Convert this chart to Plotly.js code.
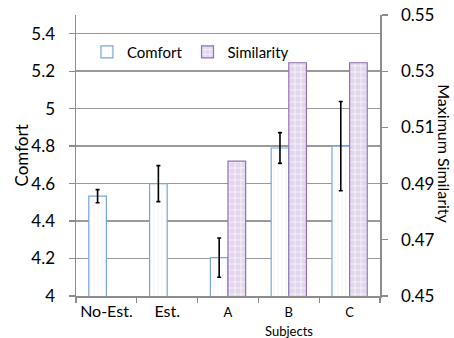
<!DOCTYPE html>
<html>
<head>
<meta charset="utf-8">
<script src="https://cdn.plot.ly/plotly-3.0.1.min.js"></script>
<style>html,body{margin:0;padding:0;background:#fff;}#chart{width:454px;height:338px;}</style>
</head>
<body>
<div id="chart"></div>
<script>
var categories = ["No-Est.", "Est.", "A", "B", "C"];
var comfort = [4.533, 4.600, 4.205, 4.790, 4.800];
var comfortErr = [0.035, 0.096, 0.105, 0.082, 0.238];
var similarity = [null, null, 0.498, 0.533, 0.533];
var comfortTicks = [4, 4.2, 4.4, 4.6, 4.8, 5, 5.2, 5.4];
var comfortTickText = ["4", "4.2", "4.4", "4.6", "4.8", "5", "5.2", "5.4"];
var simTicks = [0.45, 0.47, 0.49, 0.51, 0.53, 0.55];
var simTickText = ["0.45", "0.47", "0.49", "0.51", "0.53", "0.55"];
var subjectCats = ["A", "B", "C"];

var xTickText = categories.map(function (c) {
  return subjectCats.indexOf(c) >= 0 ? '<span style="font-size:13px">' + c + '</span>' : c;
});

var font = "Lato, 'Open Sans', sans-serif";

var traces = [
  {
    type: "bar", name: "Comfort", x: categories, y: comfort,
    width: 0.29, offset: -0.29,
    marker: {
      color: "#ffffff",
      line: {color: "#7aa5da", width: 1.2},
      pattern: {shape: "|", fgcolor: "#eceef4", bgcolor: "#ffffff", size: 4, solidity: 0.15}
    },
    error_y: {type: "data", array: comfortErr, visible: true, color: "#000000", thickness: 1.6, width: 2},
    xaxis: "x", yaxis: "y"
  },
  {
    type: "bar", name: "Similarity", x: categories, y: similarity,
    width: 0.29, offset: 0,
    marker: {
      color: "#e2d6ec",
      line: {color: "#8f70b6", width: 1.2},
      pattern: {shape: "+", fgcolor: "#ffffff", bgcolor: "#e2d6ec", size: 6, solidity: 0.2}
    },
    xaxis: "x", yaxis: "y2"
  }
];

var layout = {
  width: 454, height: 338,
  margin: {l: 76, r: 74, t: 15, b: 42},
  paper_bgcolor: "#ffffff", plot_bgcolor: "#ffffff",
  font: {family: font, size: 17, color: "#000000"},
  showlegend: true,
  legend: {
    orientation: "h", x: 0.036, y: 0.868, xanchor: "left", yanchor: "middle",
    font: {family: font, size: 15, color: "#000000"},
    bgcolor: "rgba(0,0,0,0)", itemwidth: 30, traceorder: "normal"
  },
  xaxis: {
    type: "category", range: [-0.5, 4.5],
    tickvals: categories, ticktext: xTickText, tickangle: 0,
    tickson: "boundaries", ticks: "outside", ticklen: 5, tickcolor: "#8c8c8c", tickwidth: 1.3,
    showline: true, linecolor: "#8c8c8c", linewidth: 1.5,
    showgrid: false, zeroline: false,
    tickfont: {family: font, size: 16, color: "#000000"}
  },
  yaxis: {
    range: [4, 5.5], tickvals: comfortTicks, ticktext: comfortTickText,
    ticks: "outside", ticklen: 6, tickcolor: "#8c8c8c", tickwidth: 1.3,
    ticklabelstandoff: 10,
    showline: true, linecolor: "#8c8c8c", linewidth: 1.5,
    showgrid: true, gridcolor: "#9a9a9a", gridwidth: 1.5, zeroline: false,
    tickfont: {family: font, size: 17, color: "#000000"}
  },
  yaxis2: {
    range: [0.45, 0.55], tickvals: simTicks, ticktext: simTickText,
    overlaying: "y", side: "right",
    ticks: "outside", ticklen: 6, tickcolor: "#8c8c8c", tickwidth: 1.3,
    ticklabelstandoff: 10,
    showline: true, linecolor: "#8c8c8c", linewidth: 1.5,
    showgrid: false, zeroline: false,
    tickfont: {family: font, size: 17, color: "#000000"}
  },
  annotations: [
    {text: "Comfort", x: (21 - 76) / 304, xref: "paper", y: 0.5, yref: "paper",
     xanchor: "center", yanchor: "middle",
     showarrow: false, textangle: -90, font: {family: font, size: 17, color: "#000000"}},
    {text: "Subjects", x: "B", xref: "x", y: -0.125, yref: "paper",
     showarrow: false, yanchor: "middle", font: {family: font, size: 13, color: "#000000"}},
    {text: "Maximum Similarity", x: 1 + (445 - 380) / 304, xref: "paper", y: 0.508, yref: "paper",
     xanchor: "center", yanchor: "middle",
     showarrow: false, textangle: 90, font: {family: font, size: 16, color: "#000000"}}
  ]
};

Plotly.newPlot("chart", traces, layout, {staticPlot: true, displayModeBar: false});
</script>
</body>
</html>
